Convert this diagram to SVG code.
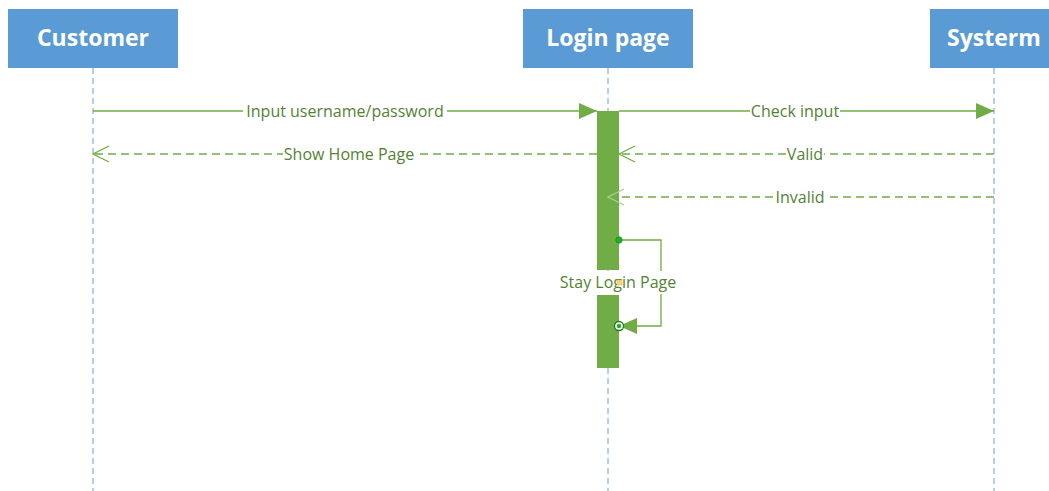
<svg xmlns="http://www.w3.org/2000/svg" width="1049" height="491" viewBox="0 0 1049 491">
<style>
.box{fill:#5B9BD5}
.head{font-family:"Open Sans","Noto Sans","Liberation Sans",sans-serif;font-weight:bold;font-size:23px;fill:#fff;text-anchor:middle}
.life{stroke:#8DB9E2;stroke-width:1.3;stroke-dasharray:6 4;fill:none}
.msg{stroke:#70AD47;stroke-width:1.3;fill:none}
.ret{stroke:#70AD47;stroke-width:1.3;fill:none;stroke-dasharray:8 5}
.lbl{font-family:"Open Sans","Noto Sans","Liberation Sans",sans-serif;font-size:16px;fill:#548235;text-anchor:middle}
.bg{fill:#fff}
.act{fill:#70AD47}
</style>
<defs>
<marker id="filled" markerWidth="20" markerHeight="18" refX="18" refY="8" orient="auto" markerUnits="userSpaceOnUse">
<path d="M0,0 L18,8 L0,16 Z" fill="#70AD47"/>
</marker>
<marker id="open" markerWidth="20" markerHeight="20" refX="17" refY="9" orient="auto" markerUnits="userSpaceOnUse">
<path d="M1,1 L17,9 L1,17" fill="none" stroke="#70AD47" stroke-width="1.3"/>
</marker>
<marker id="openlight" markerWidth="20" markerHeight="20" refX="17" refY="9" orient="auto" markerUnits="userSpaceOnUse">
<path d="M1,1 L17,9 L1,17" fill="none" stroke="#A9D18E" stroke-width="1.3"/>
</marker>
</defs>
<rect width="1049" height="491" fill="#fff"/>
<g id="customer">
<rect class="box" x="8" y="9" width="170" height="59"/>
<text class="head" x="93" y="46">Customer</text>
<line class="life" x1="93" y1="68" x2="93" y2="491"/>
</g>
<g id="loginpage">
<rect class="box" x="523" y="9" width="170" height="59"/>
<text class="head" x="608" y="46">Login page</text>
<line class="life" x1="608" y1="68" x2="608" y2="491"/>
<rect class="act" x="597" y="111" width="22" height="159"/>
<rect class="act" x="597" y="295" width="22" height="73"/>
</g>
<g id="systerm">
<rect class="box" x="930" y="9" width="130" height="59"/>
<text class="head" x="994" y="46">Systerm</text>
<line class="life" x1="994" y1="68" x2="994" y2="491"/>
</g>
<g id="connectors">
<line class="msg" x1="93" y1="111" x2="597" y2="111" marker-end="url(#filled)"/>
<rect class="bg" x="243" y="102" width="204" height="18"/>
<text class="lbl" x="345" y="116.5">Input username/password</text>

<line class="msg" x1="619" y1="111" x2="994" y2="111" marker-end="url(#filled)"/>
<rect class="bg" x="750" y="102" width="90" height="18"/>
<text class="lbl" x="795" y="116.5">Check input</text>

<line class="ret" x1="994" y1="154" x2="619" y2="154" marker-end="url(#open)"/>
<rect class="bg" x="787" y="145" width="37" height="18"/>
<text class="lbl" x="805" y="159.5">Valid</text>

<line class="ret" x1="597" y1="154" x2="93" y2="154" marker-end="url(#open)"/>
<rect class="bg" x="283" y="145" width="132" height="18"/>
<text class="lbl" x="349" y="159.5">Show Home Page</text>

<line class="ret" x1="994" y1="197" x2="608" y2="197" marker-end="url(#openlight)"/>
<rect class="bg" x="775" y="188" width="51" height="18"/>
<text class="lbl" x="800" y="202.5">Invalid</text>

<path class="msg" d="M619,240 H661 V326 H619" marker-end="url(#filled)"/>
<circle cx="619" cy="240" r="3.2" fill="#22B022" stroke="#1E8C1E" stroke-width="0.8"/>
<rect class="bg" x="555" y="271" width="126" height="23"/>
<text class="lbl" x="618" y="288">Stay Login Page</text>
<rect x="617" y="280" width="5" height="5" fill="#F5D77A" stroke="#D9B64A" stroke-width="0.5"/>
<circle cx="619" cy="326" r="4.5" fill="#fff" stroke="#1E7A1E" stroke-width="1.3"/>
<circle cx="619" cy="326" r="2.2" fill="#22B022"/>
</g>
</svg>
